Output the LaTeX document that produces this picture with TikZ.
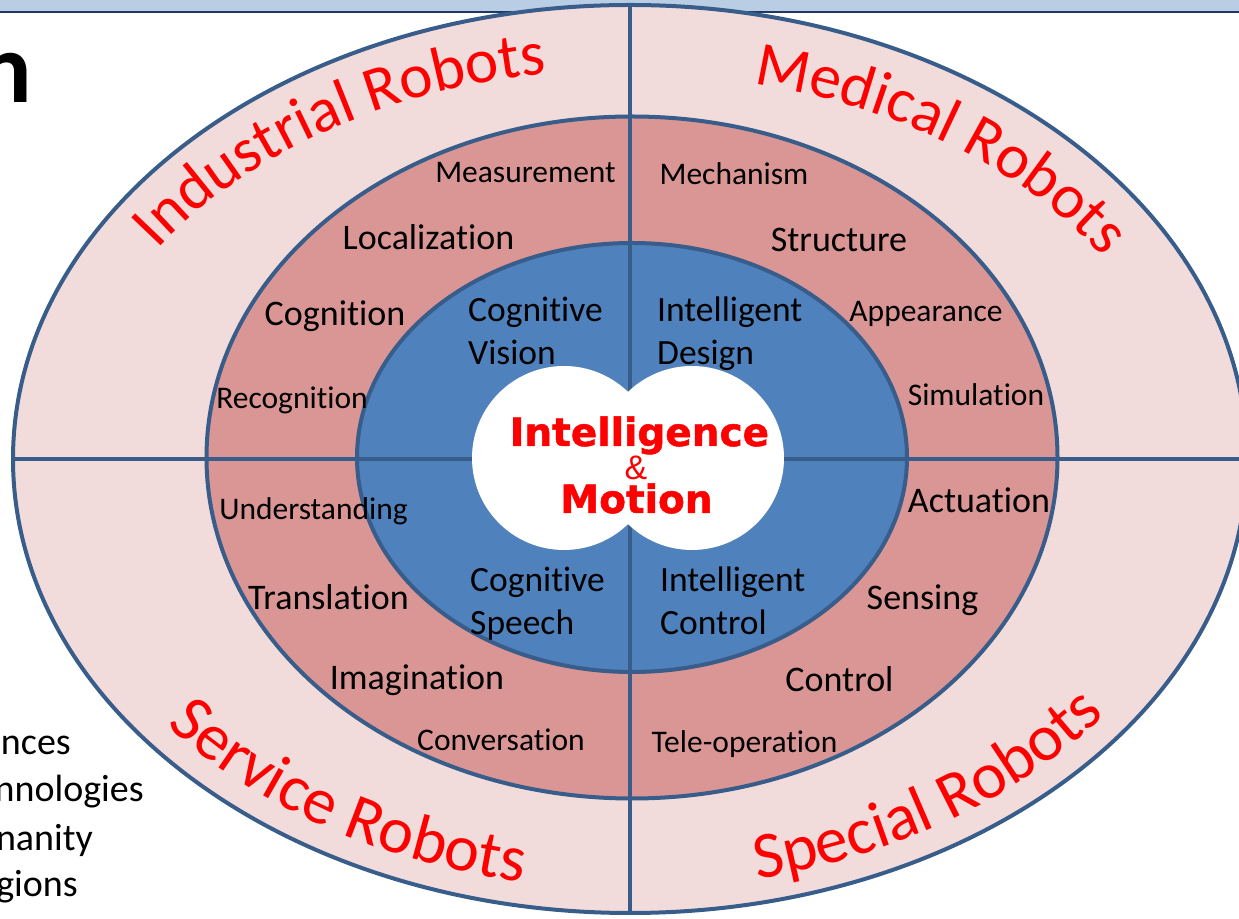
\documentclass[tikz,border=0pt]{standalone}
\usepackage{fontspec}
\setmainfont{Carlito}[Ligatures=NoCommon]
\newfontfamily\centerbold{DejaVu Sans}[FakeBold=1.3]
\newfontfamily\ampfont{Liberation Sans}
\usetikzlibrary{decorations.text}
\definecolor{bandblue}{HTML}{B9CDE5}
\definecolor{bandline}{HTML}{1F3864}
\definecolor{ringline}{HTML}{385D8A}
\definecolor{outerfill}{HTML}{F2DCDB}
\definecolor{midfill}{HTML}{D99694}
\definecolor{innerfill}{HTML}{4F81BD}
\definecolor{lblred}{HTML}{FF0000}
\newcommand\robotfonttop{\fontsize{63}{70}\selectfont}
\newcommand\robotfontbot{\fontsize{66}{72}\selectfont}
\tikzset{
  ring/.style={draw=ringline, line width=4},
  divider/.style={draw=ringline, line width=4},
  smalllbl/.style={font=\fontsize{31.5}{34}\selectfont, anchor=base, inner sep=0},
  biglbl/.style={font=\fontsize{36}{40}\selectfont, anchor=base, inner sep=0},
  corelbl/.style={font=\fontsize{35.5}{40}\selectfont, anchor=base west, inner sep=0},
  fraglbl/.style={font=\fontsize{38}{42}\selectfont, anchor=base east, inner sep=0},
  robottop/.style={decorate, decoration={text along path, text align=center,
     text={|\robotfonttop\color{lblred}|#1}}},
  robotbot/.style={decorate, decoration={text along path, text align=center,
     text={|\robotfontbot\color{lblred}|#1}}}
}
\begin{document}
\begin{tikzpicture}[x=1pt,y=1pt]
\useasboundingbox (0,0) rectangle (1239,918);
\clip (0,0) rectangle (1239,918);
% top band
\fill[bandblue] (0,906) rectangle (1239,918);
\draw[bandline, line width=1.2] (0,906) -- (1239,906);
% fragments of text on the left
\node[font=\fontsize{100}{110}\selectfont\bfseries, anchor=base east, inner sep=0] (title) at (32,815) {n};
\node[fraglbl] (f1) at (71,163) {nces};
\node[fraglbl] (f2) at (144,116) {nnologies};
\node[fraglbl] (f3) at (93,67) {nanity};
\node[fraglbl] (f4) at (78,21) {gions};
% rings
\path[ring, fill=outerfill] (630,459) ellipse [x radius=617, y radius=454];
\path[ring, fill=midfill] (632,460.5) ellipse [x radius=425.5, y radius=341];
\path[ring, fill=innerfill] (632,460.5) ellipse [x radius=275, y radius=214.5];
% dividers
\coordinate (vtop) at (630,913);
\coordinate (vbot) at (630,5);
\coordinate (hleft) at (13,459);
\coordinate (hright) at (1247,459);
\draw[divider] (vtop) -- (vbot);
\draw[divider] (hleft) -- (hright);
% centre
\fill[white] (564,460) circle [radius=92];
\fill[white] (692,460) circle [radius=92];
\node[font=\centerbold\bfseries\fontsize{39}{44}\selectfont, text=lblred, anchor=base, inner sep=0] (intel) at (639.5,472) {Intelligence};
\node[font=\ampfont\fontsize{34}{36}\selectfont, text=lblred, anchor=base, inner sep=0] (amp) at (636,438) {\&};
\node[font=\centerbold\bfseries\fontsize{39}{44}\selectfont, text=lblred, anchor=base, inner sep=0] (motion) at (636.5,405) {Motion};
% inner labels
\node[corelbl] (cv1) at (468,596) {Cognitive};
\node[corelbl] (cv2) at (468,553) {Vision};
\node[corelbl] (id1) at (657,596) {Intelligent};
\node[corelbl] (id2) at (657,553) {Design};
\node[corelbl] (cs1) at (470,326) {Cognitive};
\node[corelbl] (cs2) at (470,283) {Speech};
\node[corelbl] (ic1) at (660,326) {Intelligent};
\node[corelbl] (ic2) at (660,283) {Control};
% middle ring labels
\node[smalllbl] (meas) at (525.5,735) {Measurement};
\node[smalllbl] (mech) at (734,733) {Mechanism};
\node[biglbl] (loc) at (428.5,668) {Localization};
\node[biglbl] (struc) at (839,666) {Structure};
\node[biglbl] (cogn) at (335,592) {Cognition};
\node[smalllbl] (appe) at (926,596) {Appearance};
\node[smalllbl] (reco) at (292,509) {Recognition};
\node[smalllbl] (simu) at (976,512) {Simulation};
\node[smalllbl] (unde) at (313.5,398) {Understanding};
\node[biglbl] (actu) at (979,405) {Actuation};
\node[biglbl] (tran) at (328.5,308) {Translation};
\node[biglbl] (sens) at (922.5,308) {Sensing};
\node[biglbl] (imag) at (417,228) {Imagination};
\node[biglbl] (cont) at (839.5,226) {Control};
\node[smalllbl] (conv) at (501,167) {Conversation};
\node[smalllbl] (tele) at (744.5,165) {Tele-operation};
% robot labels along arcs
\path[robottop={Industrial Robots}] (630,459) ++(171:560 and 390) arc [start angle=171, end angle=81, x radius=560, y radius=390];
\path[robottop={Medical Robots}] (630,459) ++(96:555 and 385) arc [start angle=96, end angle=6, x radius=555, y radius=385];
\path[robotbot={Service Robots}] (630,459) ++(191:590 and 430) arc [start angle=191, end angle=281, x radius=590, y radius=430];
\path[robotbot={Special Robots}] (630,459) ++(261:590 and 430) arc [start angle=261, end angle=351, x radius=590, y radius=430];
\end{tikzpicture}
\end{document}
